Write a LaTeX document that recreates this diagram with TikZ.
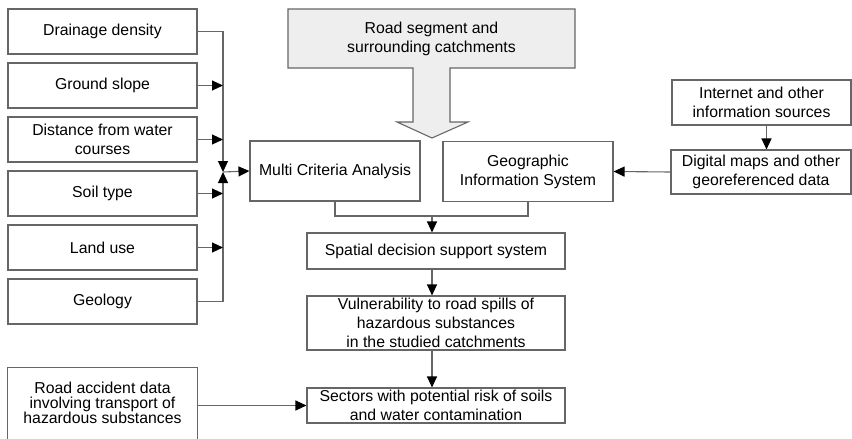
\documentclass[tikz,border=0pt]{standalone}
\usepackage{fontspec}
\setmainfont{Liberation Sans}
\usetikzlibrary{arrows.meta}
\definecolor{linegray}{HTML}{666666}
\definecolor{fillgray}{HTML}{EEEEEE}
\begin{document}
\begin{tikzpicture}[x=1pt,y=-1pt,
  every node/.style={font=\fontsize{15.8}{19}\selectfont, align=center, inner sep=0pt},
  box/.style={draw=linegray, line width=1.1pt, minimum width=#1},
  box/.default=189,
  link/.style={draw=linegray, line width=1.1pt},
  arr/.style={link, -{Triangle[length=11pt,width=10pt,color=black]}},
  arrup/.style={link, {Triangle[length=11pt,width=10pt,color=black]}-}
]
\useasboundingbox (0,0) rectangle (852,439);

% left criteria
\node[box, minimum height=45] (dd)  at (102.5,31.5)  {Drainage density};
\node[box, minimum height=45] (gs)  at (102.5,85.5)  {Ground slope};
\node[box, minimum height=45] (dw)  at (102.5,139.5) {Distance from water\\courses};
\node[box, minimum height=45] (st)  at (102.5,193.5) {Soil type};
\node[box, minimum height=45] (lu)  at (102.5,247.5) {Land use};
\node[box, minimum height=45] (geo) at (102.5,301.5) {Geology};

% road accident (box open at the bottom)
\node[minimum width=189, minimum height=70, font=\fontsize{15.8}{15}\selectfont] (ra) at (102.5,403)
  {Road accident data\\involving transport of\\hazardous substances};
\draw[link] ([yshift=-30]ra.south west) |- (ra.north east) -- ([yshift=-30]ra.south east);

% road segment with big arrow
\draw[draw=linegray, line width=1.1pt, fill=fillgray]
  (288,9) -- (575,9) -- (575,68) -- (450,68) -- (450,122) -- (468,122) -- (432,138)
  -- (397,122) -- (413,122) -- (413,68) -- (288,68) -- cycle;
\node (road) at (431.5,38.5) {Road segment and\\surrounding catchments};

% central boxes
\node[box=170, minimum height=60] (mca) at (335,171) {Multi Criteria Analysis};
\node[box=170, minimum height=60] (gis) at (528,171.5) {Geographic\\Information System};
\node[box=179, minimum height=45] (inet) at (761.5,102.5) {Internet and other\\information sources};
\node[box=180, minimum height=44] (dig) at (761,172) {Digital maps and other\\georeferenced data};
\node[box=258, minimum height=36] (sdss) at (436,251) {Spatial decision support system};
\node[box=258, minimum height=54] (vul) at (436,323) {Vulnerability to road spills of\\hazardous substances\\in the studied catchments};
\node[box=258, minimum height=35] (sec) at (436,405.5) {Sectors with potential risk of soils\\and water contamination};

% collector of criteria
\coordinate (bus) at (223,172);
\coordinate (merge) at (432,216);
\draw[arr] (dd.east) -| (bus);
\draw[arrup] (bus) |- (geo.east);
\draw[arr] (gs.east) -- (gs.east -| bus);
\draw[arr] (dw.east) -- (dw.east -| bus);
\draw[arr] (st.east) -- (st.east -| bus);
\draw[arr] (lu.east) -- (lu.east -| bus);
\draw[arr] (bus) -- (mca.west);

% GIS inputs
\draw[arr] ([xshift=5]inet.south) -- ([xshift=5]inet.south |- dig.north);
\draw[arr] (dig.west) -- (gis.east);

% merge to SDSS
\draw[link] (mca.south) |- (merge) -| (gis.south);
\draw[arr] (merge) -- (merge |- sdss.north);
\draw[arr] (sdss.south -| merge) -- (vul.north -| merge);
\draw[arr] (vul.south -| merge) -- (sec.north -| merge);
\draw[arr] (ra.east |- sec.west) -- (sec.west);
\end{tikzpicture}
\end{document}
